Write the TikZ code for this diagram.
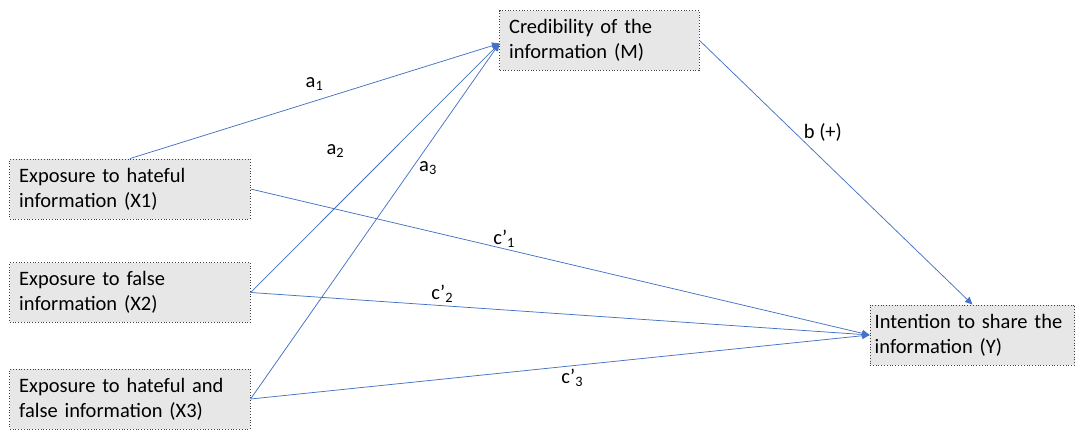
\documentclass[tikz,border=0pt]{standalone}
\usepackage{fontspec}
\setmainfont{Carlito}
\usepackage{tikz}
\usetikzlibrary{arrows.meta,positioning,calc}
\definecolor{medBlue}{HTML}{4472C4}
\definecolor{medFill}{HTML}{E7E7E7}
\definecolor{medEdge}{HTML}{404040}
\tikzset{
  medvar/.style={rectangle, draw=medEdge, densely dotted, fill=medFill, line width=0.5pt,
    text width=119pt, align=left, minimum height=32.2pt, inner xsep=5pt, inner ysep=2pt,
    font=\fontsize{11pt}{13.4pt}\selectfont},
  medline/.style={-{Triangle[length=4pt, width=3.6pt]}, draw=medBlue, line width=0.4pt},
  pathlab/.style={font=\fontsize{11pt}{13.4pt}\selectfont, inner sep=1.5pt}
}
\begin{document}
\begin{tikzpicture}[x=0.537pt, y=-0.537pt]
\useasboundingbox (0,0) rectangle (1076,431);
\node[medvar] (x1) at (130,189) {Exposure to hateful\\information (X1)};
\node[medvar] (x2) at (130,292.5) {Exposure to false\\information (X2)};
\node[medvar] (x3) at (130,399) {Exposure to hateful and\\false information (X3)};
\node[medvar, text width=97pt] (m) at (599.5,40.5) {Credibility of the\\information (M)};
\node[medvar, text width=105pt, inner xsep=2.5pt] (y) at (972.5,335) {Intention to share the\\information (Y)};

\draw[medline] (x1.north) -- node[pathlab, pos=0.5, above=4pt]{a\textsubscript{1}} ($(m.west)+(0,3)$);
\draw[medline] (x2.east) -- node[pathlab, pos=0.57, left=24pt]{a\textsubscript{2}} ($(m.west)+(0,3)$);
\draw[medline] (x3.east) -- node[pathlab, pos=0.65, right=2pt]{a\textsubscript{3}} ($(m.west)+(0,3)$);
\draw[medline] (m.east) -- node[pathlab, pos=0.35, right=3pt]{b (+)} (y.north);
\draw[medline] (x1.east) -- node[pathlab, pos=0.41, above=-1pt]{c’\textsubscript{1}} (y.west);
\draw[medline] (x2.east) -- node[pathlab, pos=0.31, above=0pt]{c’\textsubscript{2}} (y.west);
\draw[medline] (x3.east) -- node[pathlab, pos=0.52, below=0pt]{c’\textsubscript{3}} (y.west);
\end{tikzpicture}
\end{document}
